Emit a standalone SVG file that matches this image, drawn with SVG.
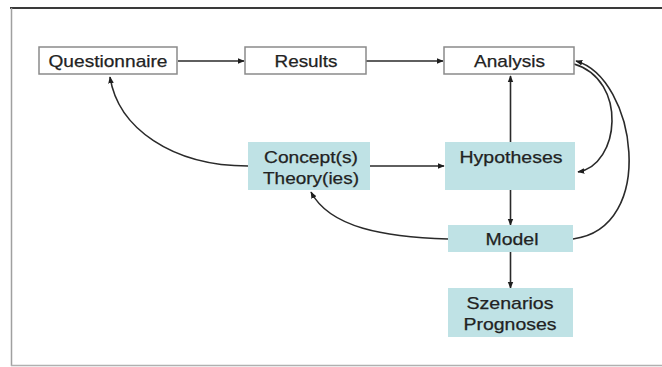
<svg xmlns="http://www.w3.org/2000/svg" width="662" height="367" viewBox="0 0 662 367">
  <style>
    .plain { fill: #ffffff; stroke: #8a8a8a; stroke-width: 1.5; }
    .teal { fill: #bfe2e5; stroke: none; }
    .lbl { font-family: "Liberation Sans", Arial, sans-serif; font-size: 17px; fill: #222222; stroke: #222222; stroke-width: 0.25; text-anchor: middle; }
    .edge { fill: none; stroke: #2a2a2a; stroke-width: 1.6; marker-end: url(#arr); }
  </style>
  <defs>
    <marker id="arr" viewBox="0 0 10 10" refX="9" refY="5" markerWidth="7" markerHeight="7" markerUnits="userSpaceOnUse" orient="auto">
      <path d="M0,1 L10,5 L0,9 Z" fill="#1e1e1e"/>
    </marker>
  </defs>

  <!-- page frame -->
  <rect x="0" y="0" width="662" height="367" fill="#ffffff"/>
  <line x1="10" y1="8" x2="662" y2="8" stroke="#3a3a3a" stroke-width="2"/>
  <line x1="11.5" y1="8" x2="11.5" y2="366" stroke="#a0a0a0" stroke-width="1.5"/>
  <line x1="11" y1="365.5" x2="662" y2="365.5" stroke="#b0b0b0" stroke-width="1.5"/>

  <g id="connectors">
    <path class="edge" d="M178,61 L244,61"/>
    <path class="edge" d="M366,61 L443,61"/>
    <path class="edge" d="M370,166 L444,166"/>
    <path class="edge" d="M510.5,142 L510.5,76"/>
    <path class="edge" d="M510.5,190 L510.5,225"/>
    <path class="edge" d="M510.5,252 L510.5,288"/>
    <path class="edge" d="M248,166 C172,166 118,128 110,77"/>
    <path class="edge" d="M448,239 C385,237 330,228 311,192"/>
    <path class="edge" d="M574,64 C628,80 620,165 578,172"/>
    <path class="edge" d="M573,239 C658,228 636,78 576,61"/>
  </g>

  <g id="questionnaire">
    <rect class="plain" x="39" y="47" width="138" height="27"/>
    <text class="lbl" x="108" y="67" textLength="119" lengthAdjust="spacingAndGlyphs">Questionnaire</text>
  </g>
  <g id="results">
    <rect class="plain" x="245" y="47" width="121" height="27"/>
    <text class="lbl" x="306" y="67" textLength="63" lengthAdjust="spacingAndGlyphs">Results</text>
  </g>
  <g id="analysis">
    <rect class="plain" x="444" y="47" width="130" height="27"/>
    <text class="lbl" x="509.5" y="67" textLength="71" lengthAdjust="spacingAndGlyphs">Analysis</text>
  </g>
  <g id="concepts">
    <rect class="teal" x="248" y="142" width="122" height="48"/>
    <text class="lbl" x="311" y="163" textLength="94" lengthAdjust="spacingAndGlyphs">Concept(s)</text>
    <text class="lbl" x="311" y="184" textLength="96" lengthAdjust="spacingAndGlyphs">Theory(ies)</text>
  </g>
  <g id="hypotheses">
    <rect class="teal" x="445" y="142" width="130" height="48"/>
    <text class="lbl" x="511" y="163" textLength="103" lengthAdjust="spacingAndGlyphs">Hypotheses</text>
  </g>
  <g id="model">
    <rect class="teal" x="448" y="225" width="125" height="27"/>
    <text class="lbl" x="512" y="245" textLength="53" lengthAdjust="spacingAndGlyphs">Model</text>
  </g>
  <g id="szenarios">
    <rect class="teal" x="448" y="288" width="125" height="49"/>
    <text class="lbl" x="510" y="309" textLength="87" lengthAdjust="spacingAndGlyphs">Szenarios</text>
    <text class="lbl" x="510" y="330" textLength="93" lengthAdjust="spacingAndGlyphs">Prognoses</text>
  </g>
</svg>
